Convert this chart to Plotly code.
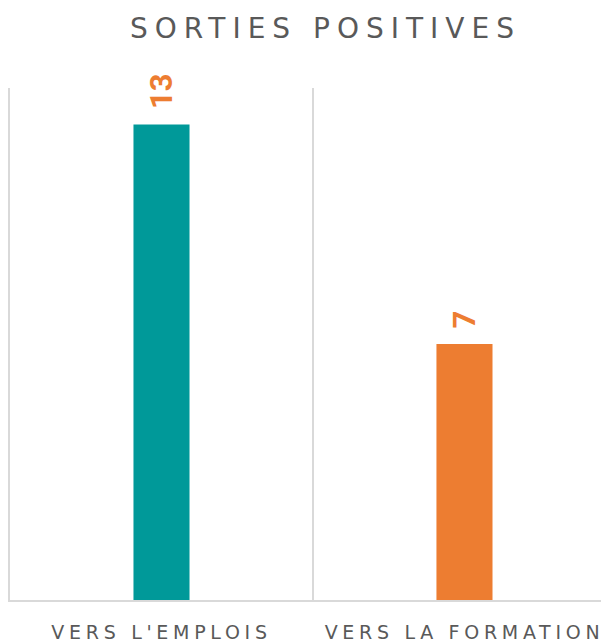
import plotly.graph_objects as go

categories = ["VERS L'EMPLOIS", "VERS LA FORMATION"]
values = [13, 7]
bar_colors = ["#009999", "#ED7D31"]
label_color = "#ED7D31"
title_text = "SORTIES POSITIVES"

# the page body has an 8px default margin, so the figure is sized to fit the window
W, H = 601, 634

fig = go.Figure()
fig.add_trace(go.Bar(
    x=categories,
    y=values,
    marker=dict(color=bar_colors, line=dict(width=0)),
    width=0.185,
    hoverinfo="skip",
))

for c, v in zip(categories, values):
    fig.add_annotation(
        x=c, y=v, xref="x", yref="y",
        text=f"<b>{v}</b>",
        textangle=-90,
        showarrow=False,
        xanchor="center", yanchor="bottom",
        yshift=14,
        font=dict(family="Roboto", size=31, color=label_color),
    )

ticktext = [f'<span style="letter-spacing:4.7px">{c}</span>' for c in categories]

fig.update_layout(
    width=W, height=H,
    margin=dict(l=2, r=0, t=80, b=42),
    paper_bgcolor="white",
    plot_bgcolor="white",
    showlegend=False,
    title=dict(
        text=f'<span style="letter-spacing:7px">{title_text}</span>',
        x=(322 + 3.5 - 8) / W, xanchor="center",
        y=1 - 20 / H, yanchor="middle", yref="container",
        font=dict(family="DejaVu Sans", size=28, color="#595959"),
    ),
    xaxis=dict(
        type="category",
        range=[-0.5, 1.477],
        tickson="boundaries",
        showgrid=True,
        gridcolor="#d9d9d9",
        gridwidth=1.5,
        showline=True,
        linecolor="#d9d9d9",
        linewidth=2,
        ticks="",
        tickmode="array",
        tickvals=categories,
        ticktext=ticktext,
        ticklabelstandoff=14,
        tickfont=dict(family="DejaVu Sans", size=19, color="#595959"),
        fixedrange=True,
        automargin=False,
    ),
    yaxis=dict(
        range=[0, 14],
        showgrid=False,
        zeroline=False,
        showticklabels=False,
        showline=True,
        linecolor="#d9d9d9",
        linewidth=1.5,
        ticks="",
        fixedrange=True,
        automargin=False,
    ),
)

fig.write_html("out.html")
